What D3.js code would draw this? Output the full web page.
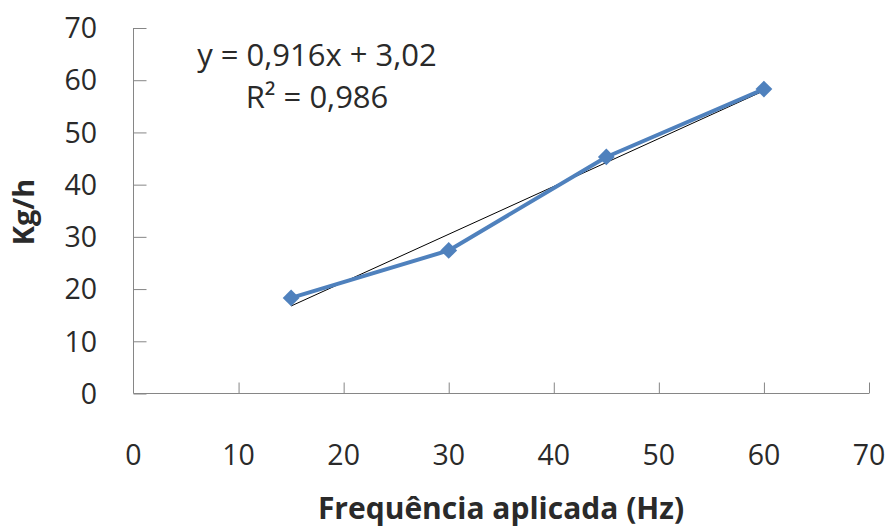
<!DOCTYPE html>
<html>
<head>
<meta charset="utf-8">
<script src="https://cdn.jsdelivr.net/npm/d3@7"></script>
<style>
  body { margin: 0; background: #fff; }
  text { font-family: "Open Sans", sans-serif; fill: #2a2a2a; }
</style>
</head>
<body>
<div id="plot"></div>
<script>
// data
var freq = [15, 30, 45, 60];
var kgh = [18.3, 27.4, 45.3, 58.3];
var xTicks = [0, 10, 20, 30, 40, 50, 60, 70];
var yTicks = [0, 10, 20, 30, 40, 50, 60, 70];
var trend = [0.916, 3.02]; // slope, intercept
var eqLabels = ["y = 0,916x + 3,02", "R\u00b2 = 0,986"];

var width = 890, height = 530;

var svg = d3.select("#plot").append("svg")
  .attr("width", width).attr("height", height);

var x = d3.scaleLinear().domain([0, 70]).range([133.5, 869]);
var y = d3.scaleLinear().domain([0, 70]).range([393.5, 28]);

var axisColor = "#868686";

// y axis
var yAxis = svg.append("g")
  .attr("transform", "translate(" + x(0) + ",0)")
  .call(d3.axisRight(y).tickValues(yTicks).tickSize(13).tickFormat(""));
yAxis.select(".domain").attr("stroke", axisColor).attr("d", "M0," + y(70) + "V" + y(0));
yAxis.selectAll(".tick line").attr("stroke", axisColor);

svg.append("g").selectAll("text").data(yTicks).enter().append("text")
  .attr("x", 97)
  .attr("y", function(d){ return y(d); })
  .attr("dy", "0.36em")
  .attr("text-anchor", "end")
  .attr("font-size", "28.5px")
  .text(function(d){ return d; });

// x axis
var xAxis = svg.append("g")
  .attr("transform", "translate(0," + y(0) + ")")
  .call(d3.axisTop(x).tickValues(xTicks).tickSize(11).tickFormat(""));
xAxis.select(".domain").attr("stroke", axisColor).attr("d", "M" + x(0) + ",0H" + x(70));
xAxis.selectAll(".tick line").attr("stroke", axisColor);
xAxis.selectAll(".tick").filter(function(d){ return d === 0; }).remove();

svg.append("g").selectAll("text").data(xTicks).enter().append("text")
  .attr("x", function(d){ return x(d); })
  .attr("y", 465)
  .attr("text-anchor", "middle")
  .attr("font-size", "28.5px")
  .text(function(d){ return d; });

// axis titles
svg.append("text")
  .attr("x", 501).attr("y", 519)
  .attr("text-anchor", "middle")
  .attr("font-size", "30px")
  .attr("font-weight", "bold")
  .text("Frequência aplicada (Hz)");

svg.append("text")
  .attr("transform", "translate(34,212) rotate(-90)")
  .attr("text-anchor", "middle")
  .attr("font-size", "29px")
  .attr("font-weight", "bold")
  .text("Kg/h");

// trend line
svg.append("line")
  .attr("x1", x(freq[0])).attr("y1", y(trend[0] * freq[0] + trend[1]))
  .attr("x2", x(freq[freq.length - 1])).attr("y2", y(trend[0] * freq[freq.length - 1] + trend[1]))
  .attr("stroke", "#000").attr("stroke-width", 1);

// series
var pts = freq.map(function(f, i){ return [f, kgh[i]]; });
var line = d3.line().x(function(d){ return x(d[0]); }).y(function(d){ return y(d[1]); });

svg.append("path").datum(pts)
  .attr("d", line)
  .attr("fill", "none")
  .attr("stroke", "#4F81BD")
  .attr("stroke-width", 4)
  .attr("stroke-linejoin", "round");

svg.append("g").selectAll("path").data(pts).enter().append("path")
  .attr("d", d3.symbol().type(d3.symbolDiamond2).size(180))
  .attr("transform", function(d){ return "translate(" + x(d[0]) + "," + y(d[1]) + ")"; })
  .attr("fill", "#4F81BD");

// equation
svg.append("g").selectAll("text").data(eqLabels).enter().append("text")
  .attr("x", 317)
  .attr("y", function(d, i){ return 66 + i * 42; })
  .attr("text-anchor", "middle")
  .attr("font-size", "31px")
  .text(function(d){ return d; });
</script>
</body>
</html>
